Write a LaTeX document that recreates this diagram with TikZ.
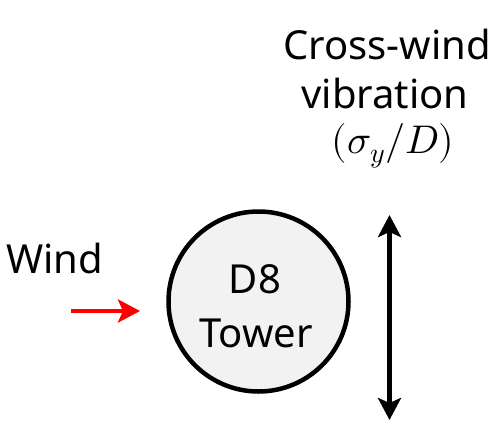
\documentclass[tikz,border=0pt]{standalone}
\usepackage{fontspec}
\usepackage{unicode-math}
\setmainfont{Noto Sans}
\setmathfont{Latin Modern Math}
\usetikzlibrary{arrows.meta}
\definecolor{towerfill}{HTML}{F2F2F2}
\tikzset{
  lbl/.style={font=\fontsize{40}{48}\selectfont, inner sep=0pt, anchor=base},
  arr/.style={line width=4.5pt, -{Stealth[length=22pt,width=23pt,inset=5pt]}},
  darr/.style={line width=4.5pt, {Stealth[length=22pt,width=23pt,inset=5pt]}-{Stealth[length=22pt,width=23pt,inset=5pt]}}
}
\begin{document}
\begin{tikzpicture}[x=1pt,y=-1pt]
\useasboundingbox (0,0) rectangle (500,437);
\node[circle, draw=black, line width=4.5pt, fill=towerfill, minimum size=180pt, inner sep=0pt] (tower) at (258.5,301.5) {};
\node[lbl] (d8) at (255,293) {D8};
\node[lbl] (tw) at (256,347) {Tower};
\node[lbl, anchor=base west] (wind) at (6,273) {Wind};
\coordinate (ws) at (71,311);
\coordinate (we) at (140,311);
\draw[arr, red] (ws) -- (we);
\coordinate (vt) at (389.5,215);
\coordinate (vb) at (389.5,420);
\draw[darr] (vt) -- (vb);
\node[lbl] (cw1) at (387,59) {Cross-wind};
\node[lbl] (cw2) at (385,108) {vibration};
\node[lbl] (cw3) at (393,153) {$(\sigma_y/D)$};
\end{tikzpicture}
\end{document}
